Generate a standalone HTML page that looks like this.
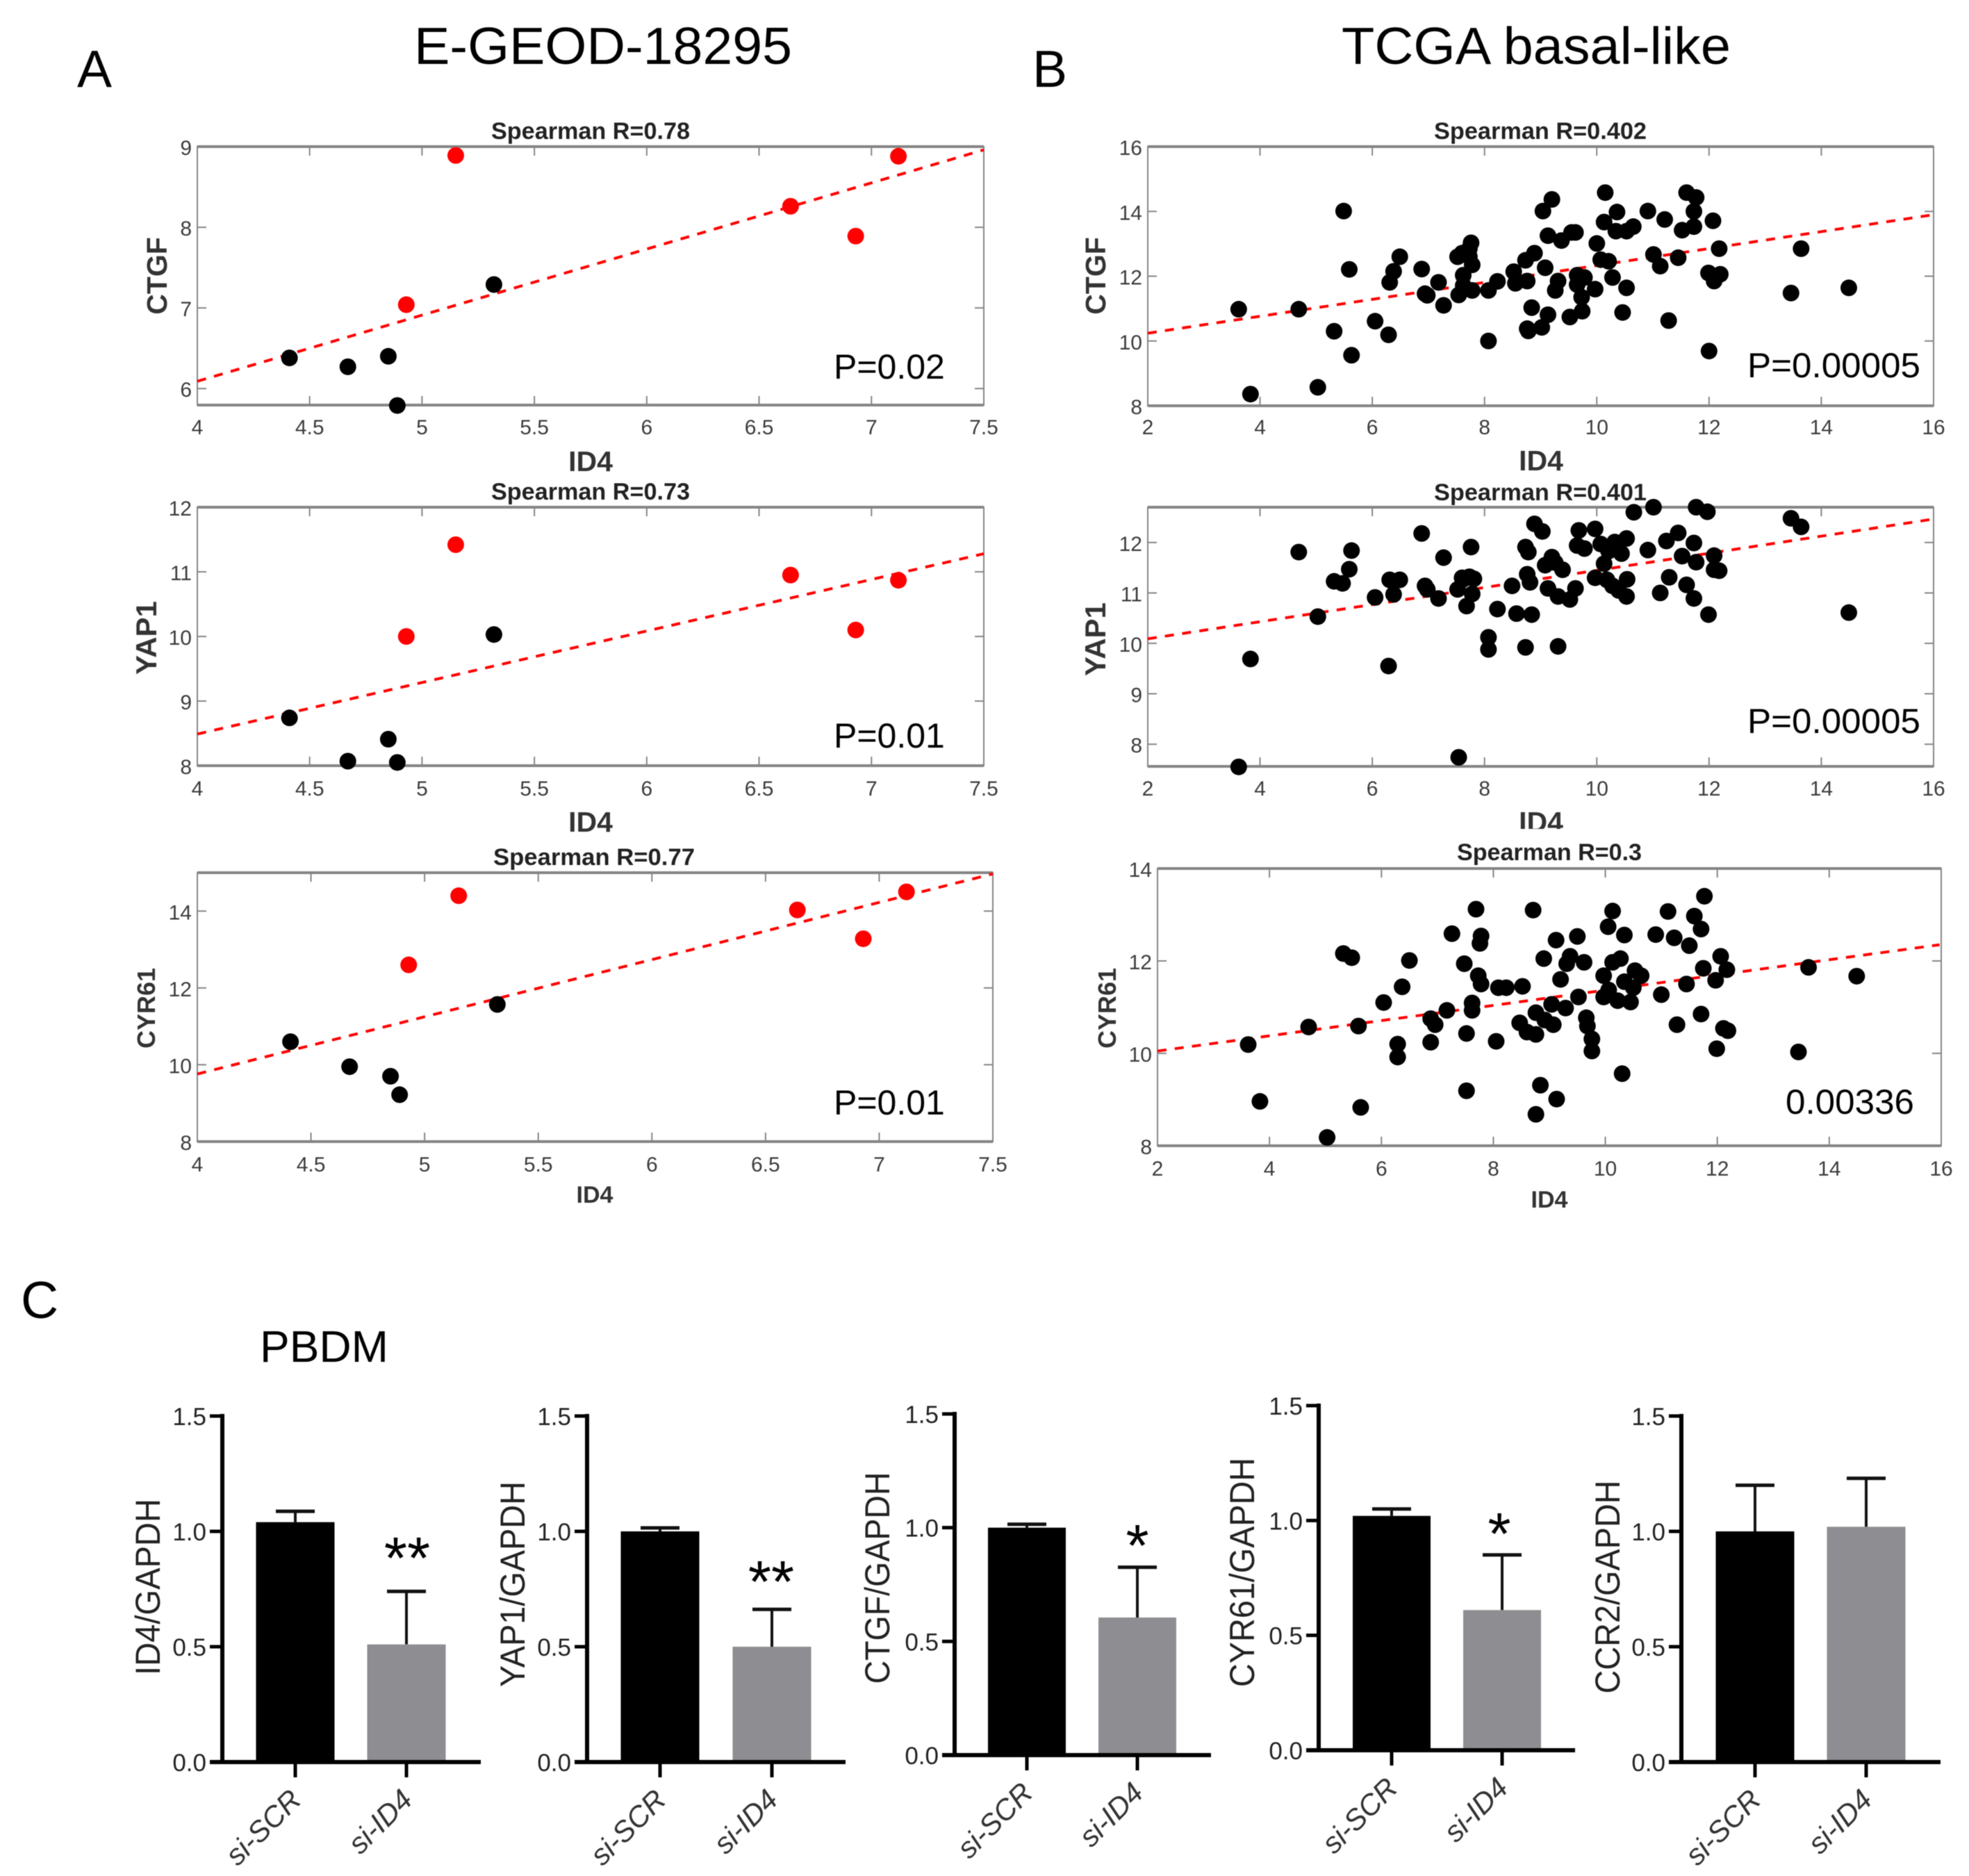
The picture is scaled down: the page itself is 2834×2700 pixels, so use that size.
<!DOCTYPE html>
<html>
<head>
<meta charset="utf-8">
<title>ID4 correlation figure</title>
<style>
html,body{margin:0;padding:0;background:#fff;}
svg{display:block;filter:blur(0.6px);}
text{font-family:"Liberation Sans",sans-serif;}
.head{font-size:75px;fill:#000;}
.title{font-size:34px;font-weight:bold;fill:#222;text-anchor:middle;}
.axl{font-weight:bold;fill:#333;text-anchor:middle;}
.p{font-size:50px;fill:#000;}
.yl{font-size:50px;fill:#222;text-anchor:middle;}
.star{font-size:85px;fill:#000;text-anchor:middle;}
</style>
</head>
<body>
<svg id="fig" xmlns="http://www.w3.org/2000/svg" width="2834" height="2700" viewBox="0 0 2834 2700">
<rect x="0" y="0" width="2834" height="2700" fill="#fff"/>

<text class="head" x="111" y="125">A</text>
<text class="head" x="1486" y="125">B</text>
<text class="head" x="30" y="1897">C</text>
<text class="head" x="596" y="92" textLength="544" lengthAdjust="spacingAndGlyphs">E-GEOD-18295</text>
<text class="head" x="1931" y="92" textLength="560" lengthAdjust="spacingAndGlyphs">TCGA basal-like</text>
<text x="374" y="1960" font-size="64" fill="#000">PBDM</text>

<g id="layer-plots"></g>

<text class="title" x="850" y="200" textLength="286" lengthAdjust="spacingAndGlyphs">Spearman R=0.78</text>
<text class="title" x="850" y="719" textLength="286" lengthAdjust="spacingAndGlyphs">Spearman R=0.73</text>
<text class="title" x="855" y="1245" textLength="290" lengthAdjust="spacingAndGlyphs">Spearman R=0.77</text>
<text class="title" x="2217" y="200" textLength="306" lengthAdjust="spacingAndGlyphs">Spearman R=0.402</text>
<text class="title" x="2217" y="720" textLength="306" lengthAdjust="spacingAndGlyphs">Spearman R=0.401</text>
<text class="title" x="2230" y="1238" textLength="266" lengthAdjust="spacingAndGlyphs">Spearman R=0.3</text>

<text class="axl" font-size="41" x="850" y="678">ID4</text>
<text class="axl" font-size="41" x="850" y="1197">ID4</text>
<text class="axl" font-size="34" x="856" y="1731">ID4</text>
<text class="axl" font-size="41" x="2218" y="677">ID4</text>
<text class="axl" font-size="41" x="2218" y="1197">ID4</text>
<text class="axl" font-size="34" x="2230" y="1738">ID4</text>
<rect x="2170" y="1193" width="100" height="12" fill="#fff"/>

<text class="axl" font-size="41" transform="translate(240,397) rotate(-90)">CTGF</text>
<text class="axl" font-size="42" transform="translate(225,918) rotate(-90)">YAP1</text>
<text class="axl" font-size="36" transform="translate(223,1451) rotate(-90)">CYR61</text>
<text class="axl" font-size="41" transform="translate(1591,397) rotate(-90)">CTGF</text>
<text class="axl" font-size="42" transform="translate(1591,920) rotate(-90)">YAP1</text>
<text class="axl" font-size="36" transform="translate(1606,1451) rotate(-90)">CYR61</text>

<text class="p" x="1200" y="545">P=0.02</text>
<text class="p" x="1200" y="1076">P=0.01</text>
<text class="p" x="1200" y="1604">P=0.01</text>
<text class="p" x="2515" y="543" textLength="249" lengthAdjust="spacingAndGlyphs">P=0.00005</text>
<text class="p" x="2515" y="1055" textLength="249" lengthAdjust="spacingAndGlyphs">P=0.00005</text>
<text class="p" x="2570" y="1603" textLength="185" lengthAdjust="spacingAndGlyphs">0.00336</text>

<g id="layer-bars"></g>

<text class="yl" transform="translate(230,2284) rotate(-90)" textLength="254" lengthAdjust="spacingAndGlyphs">ID4/GAPDH</text>
<text class="yl" transform="translate(755,2280) rotate(-90)" textLength="296" lengthAdjust="spacingAndGlyphs">YAP1/GAPDH</text>
<text class="yl" transform="translate(1280,2271) rotate(-90)" textLength="305" lengthAdjust="spacingAndGlyphs">CTGF/GAPDH</text>
<text class="yl" transform="translate(1805,2263) rotate(-90)" textLength="330" lengthAdjust="spacingAndGlyphs">CYR61/GAPDH</text>
<text class="yl" transform="translate(2331,2284) rotate(-90)" textLength="307" lengthAdjust="spacingAndGlyphs">CCR2/GAPDH</text>

<text class="star" x="586" y="2272">**</text>
<text class="star" x="1110" y="2306">**</text>
<text class="star" x="1637" y="2254">*</text>
<text class="star" x="2158" y="2237">*</text>
</svg>

<script>
// ---------- Panel A data (E-GEOD-18295) ----------
const aId4 = [4.41,4.67,4.85,4.89,4.93,5.15,5.32,6.64,6.93,7.12];
const aHighGroup = [0,0,0,0,1,1,0,1,1,1];
const aCtgf = [6.38,6.27,6.40,5.79,7.04,8.89,7.29,8.26,7.89,8.88];
const aYap1 = [8.74,8.07,8.41,8.05,10.0,11.42,10.03,10.95,10.1,10.87];
const aCyr61 = [10.6,9.95,9.7,9.22,12.6,14.4,11.57,14.03,13.28,14.5];
const aXTicks = [4,4.5,5,5.5,6,6.5,7,7.5];

// ---------- Panel B data (TCGA basal-like) ----------
const bCtgfX = [3.62,3.83,4.69,5.03,5.32,5.49,5.59,5.63,6.05,6.29,6.31,6.38,6.49,6.88,6.94,6.98,7.18,7.27,7.52,7.54,7.60,7.62,7.62,7.73,7.76,7.73,7.78,7.78,8.07,8.07,8.23,8.52,8.55,8.73,8.76,8.76,8.78,8.84,8.89,9.02,9.04,9.08,9.13,9.13,9.20,9.26,9.31,9.37,9.52,9.55,9.62,9.65,9.65,9.73,9.74,9.78,9.97,10.00,10.07,10.13,10.15,10.21,10.28,10.34,10.36,10.46,10.53,10.53,10.65,10.91,11.01,11.13,11.21,11.28,11.45,11.52,11.60,11.73,11.73,11.77,11.99,12.00,12.07,12.09,12.18,12.20,13.46,13.64,14.49];
const bCtgfY = [10.98,8.36,10.98,8.57,10.30,14.01,12.21,9.56,10.61,10.19,11.81,12.15,12.60,12.22,11.46,11.41,11.81,11.10,12.60,11.42,12.71,12.03,11.71,12.85,13.03,12.60,12.35,11.56,11.56,10.00,11.84,12.14,11.78,12.49,11.85,10.38,10.31,11.03,12.71,10.42,14.01,12.26,13.25,10.81,14.37,11.56,11.85,13.10,10.74,13.35,13.35,11.74,12.03,11.35,10.92,11.96,11.60,13.01,12.51,13.67,14.58,12.46,11.96,13.39,13.98,10.88,11.64,13.39,13.53,14.01,12.67,12.31,13.75,10.63,12.57,13.42,14.58,13.53,14.00,14.43,12.10,9.69,13.71,11.85,12.85,12.06,11.48,12.85,11.64];
const bYap1X = [3.62,3.83,4.69,5.03,5.32,5.47,5.59,5.63,6.05,6.29,6.31,6.38,6.49,6.88,6.94,6.98,7.18,7.27,7.52,7.54,7.60,7.62,7.68,7.73,7.76,7.78,7.81,8.07,8.07,8.23,8.49,8.57,8.73,8.73,8.78,8.76,8.81,8.84,8.89,9.03,9.08,9.13,9.20,9.26,9.31,9.31,9.39,9.52,9.62,9.65,9.68,9.78,9.97,9.97,10.07,10.13,10.18,10.21,10.28,10.32,10.39,10.44,10.53,10.53,10.54,10.66,10.91,11.01,11.13,11.24,11.29,11.45,11.52,11.60,11.73,11.73,11.77,11.77,11.97,11.99,12.09,12.09,12.18,13.46,13.64,14.49];
const bYap1Y = [7.55,9.69,11.81,10.53,11.23,11.19,11.47,11.84,10.91,9.55,11.26,10.97,11.26,12.18,11.14,11.07,10.89,11.70,11.07,7.74,11.30,11.27,10.74,11.32,11.91,10.98,11.28,10.12,9.88,10.68,11.14,10.59,9.92,11.91,11.81,11.37,11.21,10.57,12.37,12.22,11.55,11.09,11.71,11.60,9.94,10.93,11.46,10.87,11.09,11.94,12.24,11.88,12.27,11.30,11.97,11.58,11.26,11.83,11.14,12.01,11.05,11.78,10.93,12.08,11.27,12.60,11.85,12.70,11.00,12.03,11.31,12.19,11.73,11.16,11.99,10.89,11.61,12.70,12.61,10.57,11.74,11.46,11.44,12.48,12.31,10.61];
const bCyr61X = [3.62,3.83,4.70,5.03,5.32,5.47,5.59,5.63,6.04,6.29,6.29,6.37,6.50,6.88,6.88,6.96,7.17,7.26,7.48,7.52,7.52,7.62,7.62,7.69,7.73,7.78,7.78,7.76,8.05,8.09,8.23,8.52,8.47,8.60,8.71,8.76,8.76,8.76,8.84,8.90,8.92,9.04,9.07,9.12,9.13,9.20,9.29,9.31,9.37,9.50,9.52,9.62,9.66,9.68,9.76,9.76,9.97,9.97,10.05,10.06,10.13,10.13,10.22,10.27,10.30,10.34,10.34,10.45,10.50,10.53,10.64,10.90,11.00,11.12,11.23,11.28,11.45,11.50,11.59,11.71,11.71,11.75,11.77,11.97,11.99,12.06,12.11,12.17,12.19,13.45,13.63,14.49];
const bCyr61Y = [10.19,8.96,10.57,8.18,12.16,12.07,10.59,8.83,11.10,10.20,9.92,11.44,12.01,10.75,10.24,10.62,10.93,12.59,11.94,10.43,9.19,11.09,10.93,13.12,11.68,12.54,11.50,12.38,10.26,11.42,11.42,11.45,10.66,10.46,13.10,10.88,8.68,10.41,9.31,12.05,10.72,11.06,10.62,12.45,9.01,11.60,10.98,11.94,12.10,12.53,11.22,11.97,10.77,10.59,10.31,10.05,11.68,11.22,12.74,11.37,11.97,13.08,11.14,12.05,9.56,12.56,11.55,11.11,11.42,11.79,11.68,12.57,11.27,13.07,12.50,10.62,11.50,12.33,12.97,12.69,10.85,11.84,13.40,11.58,10.10,12.10,10.54,11.81,10.49,10.03,11.86,11.67];
const bXTicks = [2,4,6,8,10,12,14,16];

// ---------- Fit-line endpoints ----------
const fitAX = [4,7.5];
const fitACtgf = [6.09,8.96];
const fitAYap1 = [8.49,11.28];
const fitACyr61 = [9.76,14.97];
const fitBX = [2,15.97];
const fitBCtgf = [10.24,13.89];
const fitBYap1 = [10.09,12.46];
const fitBCyr61 = [10.05,12.35];

// ---------- Y tick labels ----------
const ticksACtgf = [6,7,8,9];
const ticksAYap1 = [8,9,10,11,12];
const ticksACyr61 = [8,10,12,14];
const ticksBCtgf = [8,10,12,14,16];
const ticksBYap1 = [8,9,10,11,12];
const ticksBCyr61 = [8,10,12,14];

// ---------- Panel C data (PBDM qPCR) ----------
const barGroups = ['si-SCR','si-ID4'];
const barTicks = [0,0.5,1,1.5];
const barId4 = [1.04,0.51];
const errId4 = [1.087,0.74];
const barYap1 = [1.0,0.5];
const errYap1 = [1.015,0.662];
const barCtgf = [1.0,0.605];
const errCtgf = [1.015,0.826];
const barCyr61 = [1.02,0.61];
const errCyr61 = [1.05,0.85];
const barCcr2 = [1.0,1.02];
const errCcr2 = [1.2,1.23];

const NS = 'http://www.w3.org/2000/svg';
function make(parent, tag, attrs, content) {
  const node = document.createElementNS(NS, tag);
  for (const k in attrs) node.setAttribute(k, attrs[k]);
  if (content !== undefined) node.textContent = content;
  parent.appendChild(node);
  return node;
}
function linear(d0, d1, r0, r1) {
  return v => r0 + (v - d0) / (d1 - d0) * (r1 - r0);
}
const AXIS = '#858585';
const TICKTXT = '#3c3c3c';

function drawScatter(cfg) {
  const root = document.getElementById('layer-plots');
  const g = make(root, 'g', {});
  
  
  const sx = linear(cfg.xDom[0], cfg.xDom[1], cfg.box[0], cfg.box[1]);
  const sy = linear(cfg.yDom[0], cfg.yDom[1], cfg.box[3], cfg.box[2]);
  const [L, R, T, B] = cfg.box;

  const frame = make(g, 'rect', {x:L, y:T, width:R-L, height:B-T, fill:'#fff', stroke:AXIS, 'stroke-width':2});
  
  
  const topEdge = make(g, 'line', {x1:L, x2:R, y1:T, y2:T, stroke:AXIS, 'stroke-width':4});
  
  
  const bottomEdge = make(g, 'line', {x1:L, x2:R, y1:B, y2:B, stroke:AXIS, 'stroke-width':4});
  
  

  cfg.xTicks.forEach(t => {
    const x = sx(t);
    const tick = make(g, 'path', {d:`M${x} ${B}v-13M${x} ${T}v13`, stroke:AXIS, 'stroke-width':2, fill:'none'});
    
    
    const label = make(g, 'text', {x:x, y:cfg.xLabelY, 'font-size':30, fill:TICKTXT, 'text-anchor':'middle'}, String(t));
    
    
  });
  cfg.yTicks.forEach(t => {
    const y = sy(t);
    const tick = make(g, 'path', {d:`M${L} ${y}h13M${R} ${y}h-13`, stroke:AXIS, 'stroke-width':2, fill:'none'});
    
    
    const label = make(g, 'text', {x:L-8, y:y+12, 'font-size':30, fill:TICKTXT, 'text-anchor':'end'}, String(t));
    
    
  });

  const fit = make(g, 'line', {x1:sx(cfg.fitX[0]), y1:sy(cfg.fitY[0]), x2:sx(cfg.fitX[1]), y2:sy(cfg.fitY[1]), stroke:'#f00', 'stroke-width':4, 'stroke-dasharray':'13 12'});
  
  

  cfg.xs.forEach((xv, i) => {
    const pt = make(g, 'circle', {cx:sx(xv), cy:sy(cfg.ys[i]), r:12, fill:(cfg.high && cfg.high[i]) ? '#f00' : '#000'});
    
    
  });
}

function drawBars(cfg) {
  const root = document.getElementById('layer-bars');
  const g = make(root, 'g', {});
  
  
  const sy = linear(0, 1.5, cfg.base, cfg.top);
  const colors = ['#000', '#8e8e92'];

  cfg.values.forEach((v, i) => {
    const cx = cfg.centers[i];
    const hw = cfg.barWidth / 2;
    const stem = make(g, 'line', {x1:cx, x2:cx, y1:sy(v), y2:sy(cfg.errors[i]), stroke:'#111', 'stroke-width':4});
    
    
    const cap = make(g, 'line', {x1:cx-28, x2:cx+28, y1:sy(cfg.errors[i]), y2:sy(cfg.errors[i]), stroke:'#111', 'stroke-width':5});
    
    
    const bar = make(g, 'rect', {x:cx-hw, y:sy(v), width:cfg.barWidth, height:cfg.base-sy(v), fill:colors[i]});
    
    
    const tick = make(g, 'line', {x1:cx, x2:cx, y1:cfg.base, y2:cfg.base+22, stroke:'#000', 'stroke-width':5});
    
    
    const lx = cx + 11, ly = cfg.base + 57;
    const label = make(g, 'text', {x:lx, y:ly, 'font-size':42, 'font-style':'italic', fill:'#333', 'text-anchor':'end', transform:`rotate(-45 ${lx} ${ly})`}, barGroups[i]);
    
    
  });

  const yAxis = make(g, 'line', {x1:cfg.axisX, x2:cfg.axisX, y1:cfg.top-3, y2:cfg.base+3, stroke:'#000', 'stroke-width':6});
  
  
  const xAxis = make(g, 'line', {x1:cfg.axisX-18, x2:cfg.axisEnd, y1:cfg.base, y2:cfg.base, stroke:'#000', 'stroke-width':6});
  
  

  barTicks.forEach(t => {
    const y = sy(t);
    const tick = make(g, 'line', {x1:cfg.axisX-18, x2:cfg.axisX, y1:y, y2:y, stroke:'#000', 'stroke-width':5});
    
    
    const label = make(g, 'text', {x:cfg.axisX-23, y:y+13, 'font-size':35, fill:'#222', 'text-anchor':'end'}, t.toFixed(1));
    
    
  });
}

const L1 = 284, R1 = 1416, L2 = 1652, R2 = 2783;
drawScatter({box:[L1,R1,211,583], xDom:[4,7.5], yDom:[5.795,9], xTicks:aXTicks, yTicks:ticksACtgf, xLabelY:625, xs:aId4, ys:aCtgf, high:aHighGroup, fitX:fitAX, fitY:fitACtgf});
drawScatter({box:[L1,R1,730,1102], xDom:[4,7.5], yDom:[8,12], xTicks:aXTicks, yTicks:ticksAYap1, xLabelY:1145, xs:aId4, ys:aYap1, high:aHighGroup, fitX:fitAX, fitY:fitAYap1});
drawScatter({box:[L1,1429,1256,1643], xDom:[4,7.5], yDom:[8,15], xTicks:aXTicks, yTicks:ticksACyr61, xLabelY:1686, xs:aId4, ys:aCyr61, high:aHighGroup, fitX:fitAX, fitY:fitACyr61});
drawScatter({box:[L2,R2,211,584], xDom:[2,16], yDom:[8,16], xTicks:bXTicks, yTicks:ticksBCtgf, xLabelY:625, xs:bCtgfX, ys:bCtgfY, fitX:fitBX, fitY:fitBCtgf});
drawScatter({box:[L2,R2,730,1103], xDom:[2,16], yDom:[7.56,12.7], xTicks:bXTicks, yTicks:ticksBYap1, xLabelY:1145, xs:bYap1X, ys:bYap1Y, fitX:fitBX, fitY:fitBYap1});
drawScatter({box:[1666,2794,1250,1649], xDom:[2,16], yDom:[8,14], xTicks:bXTicks, yTicks:ticksBCyr61, xLabelY:1692, xs:bCyr61X, ys:bCyr61Y, fitX:fitBX, fitY:fitBCyr61});

drawBars({axisX:320, axisEnd:692, top:2038, base:2536, barWidth:113, centers:[425,585], values:barId4, errors:errId4});
drawBars({axisX:845, axisEnd:1217, top:2038, base:2536, barWidth:113, centers:[950,1111], values:barYap1, errors:errYap1});
drawBars({axisX:1374, axisEnd:1743, top:2035, base:2526, barWidth:112, centers:[1478,1637], values:barCtgf, errors:errCtgf});
drawBars({axisX:1898, axisEnd:2267, top:2023, base:2519, barWidth:112, centers:[2003,2162], values:barCyr61, errors:errCyr61});
drawBars({axisX:2420, axisEnd:2793, top:2038, base:2536, barWidth:113, centers:[2526,2686], values:barCcr2, errors:errCcr2});
</script>
</body>
</html>
